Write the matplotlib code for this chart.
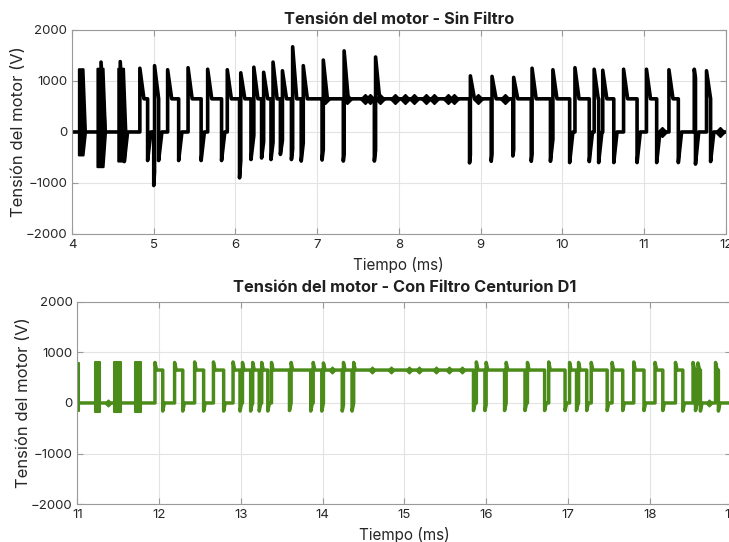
import numpy as np
import matplotlib.pyplot as plt

plt.rcParams['font.family'] = ['Inter', 'DejaVu Sans']

# ---- Sin filtro (4 - 12 ms) ----
# switching edges: time (ms), level after the edge (V), overshoot peak (V)
raw_edge_t = [4.355, 4.59, 4.64,
              4.83, 4.925, 5.00, 5.01, 5.06, 5.17, 5.305, 5.42, 5.58, 5.66,
              5.83, 5.90, 6.05, 6.065, 6.19, 6.225, 6.32, 6.345, 6.435, 6.46,
              6.55, 6.575, 6.685, 6.70, 6.805, 6.83, 7.06, 7.075, 7.32, 7.33,
              7.70, 7.715, 8.865, 8.875, 9.13, 9.14, 9.395, 9.405, 9.62, 9.63,
              9.855, 9.885, 10.09, 10.155, 10.33, 10.39, 10.445, 10.495,
              10.63, 10.75, 10.915, 11.03, 11.155, 11.305, 11.42, 11.615,
              11.63, 11.765, 11.815]
raw_edge_level = [0, 0, 0,
                  650, 0, 0, 650, 0, 650, 0, 650, 0, 650,
                  0, 650, 0, 650, 0, 650, 0, 650, 0, 650,
                  0, 650, 0, 650, 0, 650, 0, 650, 0, 650,
                  0, 650, 0, 650, 0, 650, 0, 650, 0, 650,
                  0, 650, 0, 650, 0, 650, 0, 650,
                  0, 650, 0, 650, 0, 650, 0, 650,
                  0, 650, 0]
raw_edge_peak = [1370, 1380, -580,
                 1250, -560, -1050, 1300, -560, 1220, -560, 1260, -560, 1230,
                 -560, 1220, -900, 1160, -540, 1270, -510, 1170, -540, 1370,
                 -440, 1200, -540, 1670, -570, 1300, -550, 1410, -570, 1590,
                 -570, 1470, -606, 1100, -575, 1090, -470, 1070, -575, 1250,
                 -575, 1220, -600, 1260, -580, 1230, -600, 1210,
                 -600, 1230, -600, 1230, -600, 1220, -600, 1230,
                 -630, 1200, -580]
# fast ringing bursts: start, end, upper and lower envelope (V)
raw_burst_t0 = [4.078, 4.305, 4.56]
raw_burst_t1 = [4.135, 4.38, 4.63]
raw_burst_hi = [1240, 1250, 1250]
raw_burst_lo = [-450, -680, -570]
# small ringing blobs on the flat parts
raw_ripple_t = [7.10, 7.36, 7.59, 7.65, 7.77, 7.95, 8.07, 8.19, 8.33, 8.43,
                8.60, 8.68, 8.97, 9.30, 11.22, 11.93]
raw_ripple_v = [650, 650, 650, 650, 650, 650, 650, 650, 650, 650,
                650, 650, 650, 650, 0, 0]

# ---- Con filtro Centurion D1 (11 - 19 ms) ----
filt_edge_t = [11.95, 12.045, 12.19, 12.29, 12.435, 12.545, 12.665, 12.79,
               12.905, 12.99, 13.02, 13.12, 13.145, 13.225, 13.255, 13.33,
               13.375, 13.595, 13.615, 13.855, 13.885, 13.99, 14.01, 14.24,
               14.255, 14.36, 14.38, 15.845, 15.88, 15.985, 16.0, 16.225,
               16.245, 16.475, 16.505, 16.715, 16.765, 16.965, 17.02, 17.105,
               17.13, 17.23, 17.285, 17.48, 17.54, 17.67, 17.805, 17.93,
               18.065, 18.16, 18.315, 18.405, 18.53, 18.56, 18.59, 18.62,
               18.805, 18.84]
filt_edge_level = [650, 0, 650, 0, 650, 0, 650, 0,
                   650, 0, 650, 0, 650, 0, 650, 0,
                   650, 0, 650, 0, 650, 0, 650, 0,
                   650, 0, 650, 0, 650, 0, 650, 0,
                   650, 0, 650, 0, 650, 0, 650, 0,
                   650, 0, 650, 0, 650, 0, 650, 0,
                   650, 0, 650, 0, 650, 0, 650, 0,
                   650, 0]
filt_edge_peak = [800, -160, 800, -160, 810, -160, 810, -160,
                  810, -160, 800, -160, 800, -160, 800, -160,
                  800, -150, 800, -160, 800, -160, 790, -160,
                  800, -160, 800, -150, 810, -150, 800, -150,
                  800, -150, 800, -150, 810, -150, 800, -150,
                  800, -150, 800, -150, 800, -150, 810, -150,
                  800, -150, 800, -160, 800, -150, 790, -160,
                  800, -160]
filt_burst_t0 = [11.0, 11.215, 11.45, 11.70]
filt_burst_t1 = [11.02, 11.28, 11.54, 11.78]
filt_burst_hi = [780, 800, 800, 800]
filt_burst_lo = [-160, -170, -170, -170]
filt_ripple_t = [11.37, 14.12, 14.61, 14.84, 15.06, 15.18, 15.39, 15.55,
                 15.71, 18.73]
filt_ripple_v = [0, 650, 650, 650, 650, 650, 650, 650, 650, 0]


def build_wave(t_start, t_end, edge_t, edge_level, edge_peak, tau_up, tau_dn):
    t = [t_start]
    v = [0.0]
    prev = 0.0
    for i in range(len(edge_t)):
        te, lev, pk = edge_t[i], edge_level[i], edge_peak[i]
        tau = tau_up if pk > lev else tau_dn
        t += [te, te]
        v += [prev, pk]
        t_end_decay = te + tau
        if i + 1 < len(edge_t) and edge_t[i + 1] < t_end_decay:
            frac = (edge_t[i + 1] - te) / tau
            t.append(edge_t[i + 1])
            v.append(pk + (lev - pk) * frac)
        else:
            t.append(t_end_decay)
            v.append(lev)
        prev = lev
    t.append(t_end)
    v.append(prev)
    return np.array(t), np.array(v)


def style_axes(ax, xlim, title, pad):
    ax.set_xlim(xlim)
    ax.set_ylim(-2000, 2000)
    ax.set_yticks([-2000, -1000, 0, 1000, 2000])
    ax.set_xticks(np.arange(xlim[0], xlim[1] + 1))
    ax.grid(True, color='#e3e3e3', linewidth=0.8)
    ax.set_axisbelow(True)
    ax.tick_params(direction='in', top=True, right=True, length=4,
                   colors='#9a9a9a', labelcolor='#262626', labelsize=9.5)
    for s in ax.spines.values():
        s.set_color('#9a9a9a')
        s.set_linewidth(0.8)
    ax.set_title(title, fontsize=11.8, fontweight='bold', color='#202020',
                 pad=pad)
    ax.set_xlabel('Tiempo (ms)', fontsize=11, color='#262626', labelpad=4.5)
    ax.set_ylabel('Tensión del motor (V)', fontsize=12, color='#262626',
                  labelpad=0)


fig = plt.figure(figsize=(7.29, 5.42), dpi=100)
ax1 = fig.add_axes([0.0988, 0.5683, 0.8967, 0.3764])
ax2 = fig.add_axes([0.1060, 0.0696, 0.8974, 0.3738])

black = '#000000'
green = '#4b8b19'

# top: without filter
t, v = build_wave(4, 12, raw_edge_t, raw_edge_level, raw_edge_peak, 0.05, 0.04)
ax1.plot(t, v, color=black, linewidth=2.6, solid_joinstyle='round')
for i in range(len(raw_burst_t0)):
    t0, t1 = raw_burst_t0[i], raw_burst_t1[i]
    ax1.fill_between([t0, t1, t1 + 0.03],
                     [raw_burst_hi[i], raw_burst_hi[i], 0],
                     [raw_burst_lo[i], raw_burst_lo[i], 0],
                     color=black, linewidth=1.5, edgecolor=black)
ax1.plot(raw_ripple_t, raw_ripple_v, ls='none', marker='D', ms=5, color=black)
style_axes(ax1, (4, 12), 'Tensión del motor - Sin Filtro', 4)

# bottom: with Centurion D1 filter
t, v = build_wave(11, 19, filt_edge_t, filt_edge_level, filt_edge_peak, 0.02, 0.02)
ax2.plot(t, v, color=green, linewidth=2.5, solid_joinstyle='round')
for i in range(len(filt_burst_t0)):
    t0, t1 = filt_burst_t0[i], filt_burst_t1[i]
    ax2.fill_between([t0, t1], [filt_burst_hi[i]] * 2, [filt_burst_lo[i]] * 2,
                     color=green, linewidth=1.5, edgecolor=green)
ax2.plot(filt_ripple_t, filt_ripple_v, ls='none', marker='D', ms=3.5,
         color=green)
style_axes(ax2, (11, 19), 'Tensión del motor - Con Filtro Centurion D1', 7)

fig.savefig('out.png', dpi=100)
